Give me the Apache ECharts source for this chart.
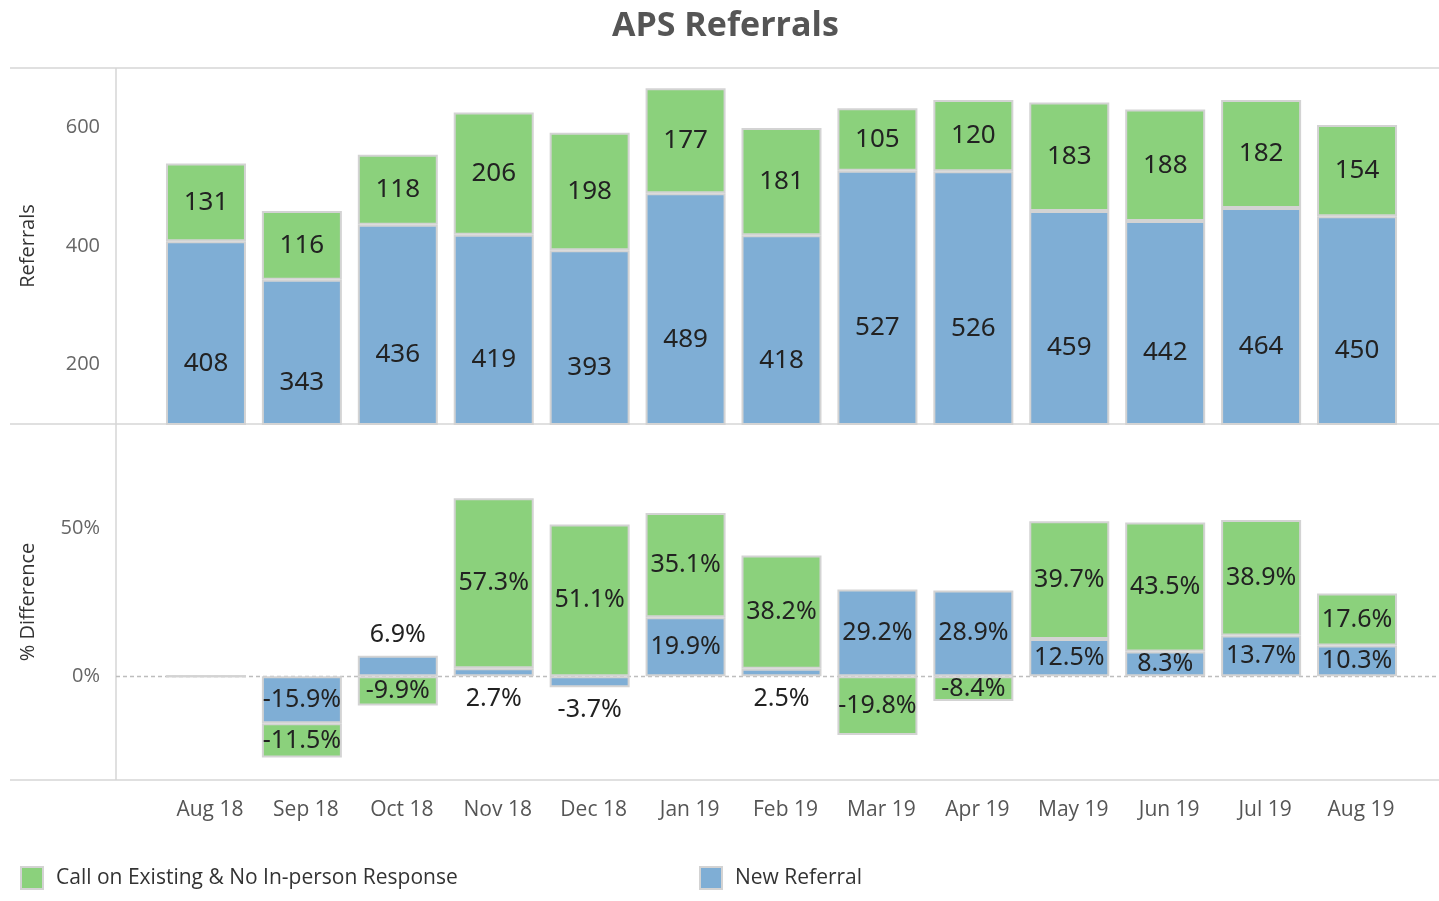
<!DOCTYPE html>
<html>
<head>
<meta charset="utf-8">
<title>APS Referrals</title>
<script src="https://cdn.jsdelivr.net/npm/echarts@6/dist/echarts.min.js"></script>
<style>
  html, body { margin: 0; padding: 0; background: #fff; }
  #chart { width: 1439px; height: 901px; }
</style>
</head>
<body>
<div id="chart"></div>
<script>
// Monthly APS referrals, split into new referrals and calls on existing cases
const months = ['Aug 18', 'Sep 18', 'Oct 18', 'Nov 18', 'Dec 18', 'Jan 19', 'Feb 19',
                'Mar 19', 'Apr 19', 'May 19', 'Jun 19', 'Jul 19', 'Aug 19'];
const newReferral = [408, 343, 436, 419, 393, 489, 418, 527, 526, 459, 442, 464, 450];
const callOnExisting = [131, 116, 118, 206, 198, 177, 181, 105, 120, 183, 188, 182, 154];

// % difference of each month against Aug 18
const newReferralPct = [0, -15.9, 6.9, 2.7, -3.7, 19.9, 2.5, 29.2, 28.9, 12.5, 8.3, 13.7, 10.3];
const callOnExistingPct = [0, -11.5, -9.9, 57.3, 51.1, 35.1, 38.2, -19.8, -8.4, 39.7, 43.5, 38.9, 17.6];

const referralTicks = [200, 400, 600];
const pctTicks = [0, 50];

const NAME_NEW = 'New Referral';
const NAME_CALL = 'Call on Existing & No In-person Response';

const BLUE = '#7faed5';
const GREEN = '#8bd17c';
const EDGE = '#d3d3d3';
const FRAME = '#d6d6d6';
const UI_FONT = '"Open Sans", sans-serif';
const MARK_FONT = '"Noto Sans", sans-serif';

// layout
const FRAME_LEFT = 10, AXIS_X = 116, PLOT_LEFT = 158, PLOT_RIGHT = 34;
const TOP_Y = 68, MID_Y = 424, BOT_Y = 780;

const barStyle = color => ({ color, borderColor: EDGE, borderWidth: 2 });
const markLabel = size => ({ show: true, color: '#222', fontFamily: MARK_FONT, fontSize: size, textBorderWidth: 0 });

// Small "new referral" differences don't fit inside their bar: put them outside
const newPctData = newReferralPct.map((v, i) => {
  if (v === 0) return { value: v, label: { show: false } };
  if (Math.abs(v) < 8) {
    const above = v > 0 && callOnExistingPct[i] < 0;
    return { value: v, label: { position: above ? 'top' : 'bottom', distance: above ? 8 : 10 } };
  }
  return { value: v };
});
const callPctData = callOnExistingPct.map(v => v === 0 ? { value: v, label: { show: false } } : { value: v });

const pctFormat = p => p.value.toFixed(1) + '%';

const legendBase = {
  icon: 'rect', itemWidth: 22, itemHeight: 22, padding: 0, top: 866,
  textStyle: { fontFamily: UI_FONT, fontSize: 21, color: '#333', padding: [0, 0, 0, 8] },
  selectedMode: false
};

const option = {
  animation: false,
  backgroundColor: '#fff',
  title: {
    text: 'APS Referrals',
    left: 612,
    top: 9,
    padding: 0,
    textStyle: { fontFamily: UI_FONT, fontWeight: 'bold', fontSize: 34, color: '#555' }
  },
  legend: [
    Object.assign({ data: [NAME_CALL], left: 20 }, legendBase),
    Object.assign({ data: [NAME_NEW], left: 699 }, legendBase)
  ],
  grid: [
    { left: PLOT_LEFT, right: PLOT_RIGHT, top: TOP_Y, height: MID_Y - TOP_Y },
    { left: PLOT_LEFT, right: PLOT_RIGHT, top: MID_Y, height: BOT_Y - MID_Y }
  ],
  xAxis: [
    { type: 'category', gridIndex: 0, data: months, show: false },
    {
      type: 'category', gridIndex: 1, data: months,
      axisLine: { show: false }, axisTick: { show: false },
      axisLabel: { fontFamily: UI_FONT, fontSize: 21, color: '#555', margin: 20, padding: [0, 0, 0, 8] }
    }
  ],
  yAxis: [
    {
      type: 'value', gridIndex: 0, min: 100, max: 700, interval: 100,
      name: 'Referrals', nameLocation: 'middle', nameGap: 120,
      nameTextStyle: { fontFamily: UI_FONT, fontSize: 20, color: '#333' },
      axisLine: { show: false }, axisTick: { show: false }, splitLine: { show: false },
      axisLabel: {
        fontFamily: UI_FONT, fontSize: 20, color: '#666', margin: 58,
        formatter: v => referralTicks.includes(v) ? String(v) : ''
      }
    },
    {
      type: 'value', gridIndex: 1, min: -35, max: 85, interval: 5,
      name: '% Difference', nameLocation: 'middle', nameGap: 120,
      nameTextStyle: { fontFamily: UI_FONT, fontSize: 20, color: '#333' },
      axisLine: { show: false }, axisTick: { show: false }, splitLine: { show: false },
      axisLabel: {
        fontFamily: UI_FONT, fontSize: 20, color: '#666', margin: 58,
        formatter: v => pctTicks.includes(v) ? v + '%' : ''
      }
    }
  ],
  series: [
    {
      name: NAME_NEW, type: 'bar', xAxisIndex: 0, yAxisIndex: 0, stack: 'count',
      barWidth: 80, data: newReferral, itemStyle: barStyle(BLUE),
      // label sits at the middle of the full bar measured from zero
      label: Object.assign(markLabel(26), { position: 'inside', offset: [0, 30] })
    },
    {
      name: NAME_CALL, type: 'bar', xAxisIndex: 0, yAxisIndex: 0, stack: 'count',
      barWidth: 80, data: callOnExisting, itemStyle: barStyle(GREEN),
      label: Object.assign(markLabel(26), { position: 'inside' })
    },
    {
      name: NAME_NEW, type: 'bar', xAxisIndex: 1, yAxisIndex: 1, stack: 'pct',
      barWidth: 80, data: newPctData, itemStyle: barStyle(BLUE),
      label: Object.assign(markLabel(25), { position: 'inside', formatter: pctFormat })
    },
    {
      name: NAME_CALL, type: 'bar', xAxisIndex: 1, yAxisIndex: 1, stack: 'pct',
      barWidth: 80, data: callPctData, itemStyle: barStyle(GREEN),
      label: Object.assign(markLabel(25), { position: 'inside', formatter: pctFormat })
    }
  ]
};

const chart = echarts.init(document.getElementById('chart'), null, { renderer: 'canvas' });
chart.setOption(option);

// panel frame and the dashed zero line of the % difference panel
const zeroY = Math.round(chart.convertToPixel({ xAxisIndex: 1, yAxisIndex: 1 }, [0, 0])[1]) + 0.5;
const W = 1439;
const hLine = y => ({
  type: 'line', silent: true, z: -1,
  shape: { x1: FRAME_LEFT, y1: y, x2: W, y2: y },
  style: { stroke: FRAME, lineWidth: 1.5 }
});
chart.setOption({
  graphic: [
    hLine(TOP_Y),
    hLine(MID_Y),
    hLine(BOT_Y),
    {
      type: 'line', silent: true, z: -1,
      shape: { x1: AXIS_X, y1: TOP_Y, x2: AXIS_X, y2: BOT_Y },
      style: { stroke: FRAME, lineWidth: 1.5 }
    },
    {
      type: 'line', silent: true, z: 0,
      shape: { x1: AXIS_X, y1: zeroY, x2: W, y2: zeroY },
      style: { stroke: '#bdbdbd', lineWidth: 1.5, lineDash: [4, 3] }
    }
  ]
});
</script>
</body>
</html>
